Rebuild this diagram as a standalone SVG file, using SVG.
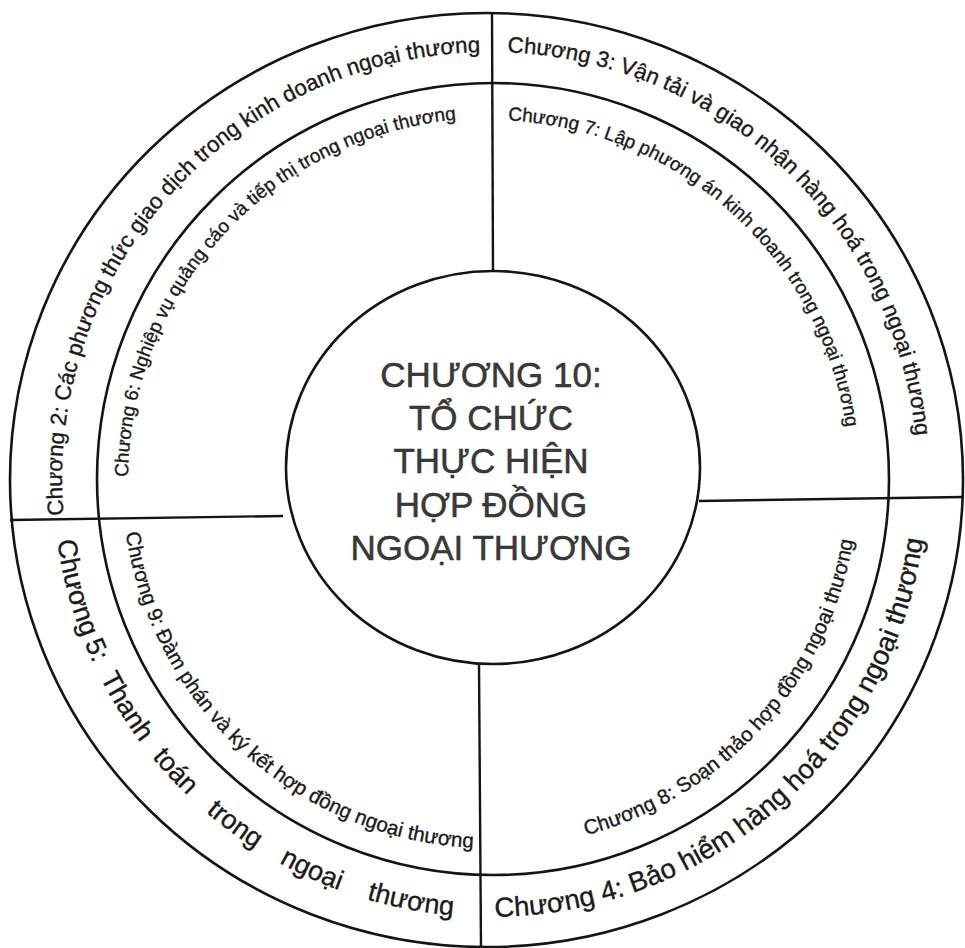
<svg xmlns="http://www.w3.org/2000/svg" width="965" height="948" viewBox="0 0 965 948">
<style>
.ring{fill:none;stroke:#141414;stroke-width:2.6}
.div{fill:none;stroke:#141414;stroke-width:2.4}
.t{font-family:"Liberation Sans",Arial,sans-serif;fill:#1a1a1a;stroke:#1a1a1a;stroke-width:0.35}
.c{font-family:"Liberation Sans",Arial,sans-serif;fill:#3a3a3a;stroke:#2a2a2a;stroke-width:0.5;font-size:35px;text-anchor:middle}
</style>
<defs>
<path id="pA" d="M63.63,517.30 A428,428 0 0 1 527.30,53.63"/>
<path id="pB" d="M497.47,52.06 A428,428 0 0 1 918,480"/>
<path id="pC" d="M490,917 A437,437 0 0 0 927,480"/>
<path id="pD" d="M57.25,540.82 A437,437 0 0 0 490,917"/>
<path id="pE" d="M128,480 A362,362 0 0 1 490,118"/>
<path id="pF" d="M490,120 A360,360 0 0 1 850,480"/>
<path id="pG" d="M490,848 A368,368 0 0 0 858,480"/>
<path id="pH" d="M122,480 A368,368 0 0 0 490,848"/>
</defs>
<rect width="965" height="948" fill="#fff"/>
<g id="ring-outer"><ellipse class="ring" cx="486.5" cy="480" rx="476.5" ry="467"/></g>
<g id="ring-middle"><circle class="ring" cx="493" cy="479" r="396"/></g>
<g id="connectors">
<line class="div" x1="492" y1="13" x2="493" y2="271"/>
<line class="div" x1="479" y1="664" x2="481" y2="947"/>
<line class="div" x1="10" y1="520" x2="283" y2="516"/>
<line class="div" x1="699" y1="501" x2="963" y2="497"/>
</g>
<g id="ch2"><text class="t" font-size="22.3"><textPath href="#pA" startOffset="2">Chương 2: Các phương thức giao dịch trong kinh doanh ngoại thương</textPath></text></g>
<g id="ch3"><text class="t" font-size="22.2"><textPath href="#pB" startOffset="10">Chương 3: Vận tải và giao nhận hàng hoá trong ngoại thương</textPath></text></g>
<g id="ch4"><text class="t" font-size="27.5"><textPath href="#pC" startOffset="5">Chương 4: Bảo hiểm hàng hoá trong ngoại thương</textPath></text></g>
<g id="ch5">
<text class="t" font-size="27"><textPath href="#pD" startOffset="0">Chương</textPath></text>
<text class="t" font-size="27"><textPath href="#pD" startOffset="106">5:</textPath></text>
<text class="t" font-size="27"><textPath href="#pD" startOffset="144">Thanh</textPath></text>
<text class="t" font-size="27"><textPath href="#pD" startOffset="239">toán</textPath></text>
<text class="t" font-size="27"><textPath href="#pD" startOffset="316">trong</textPath></text>
<text class="t" font-size="27"><textPath href="#pD" startOffset="405">ngoại</textPath></text>
<text class="t" font-size="27"><textPath href="#pD" startOffset="500">thương</textPath></text>
</g>
<g id="ch6"><text class="t" font-size="19"><textPath href="#pE" startOffset="3">Chương 6: Nghiệp vụ quảng cáo và tiếp thị trong ngoại thương</textPath></text></g>
<g id="ch7"><text class="t" font-size="19"><textPath href="#pF" startOffset="18">Chương 7: Lập phương án kinh doanh trong ngoại thương</textPath></text></g>
<g id="ch8"><text class="t" font-size="20.5"><textPath href="#pG" startOffset="97">Chương 8: Soạn thảo hợp đồng ngoại thương</textPath></text></g>
<g id="ch9"><text class="t" font-size="20.5"><textPath href="#pH" startOffset="53">Chương 9: Đàm phán và ký kết hợp đồng ngoại thương</textPath></text></g>
<g id="center">
<ellipse class="ring" cx="493" cy="467.5" rx="207" ry="196.5" fill="#fff"/>
<text class="c" x="491" y="387">CHƯƠNG 10:</text>
<text class="c" x="491" y="430">TỔ CHỨC</text>
<text class="c" x="491" y="473">THỰC HIỆN</text>
<text class="c" x="491" y="517">HỢP ĐỒNG</text>
<text class="c" x="491" y="560">NGOẠI THƯƠNG</text>
</g>
</svg>
